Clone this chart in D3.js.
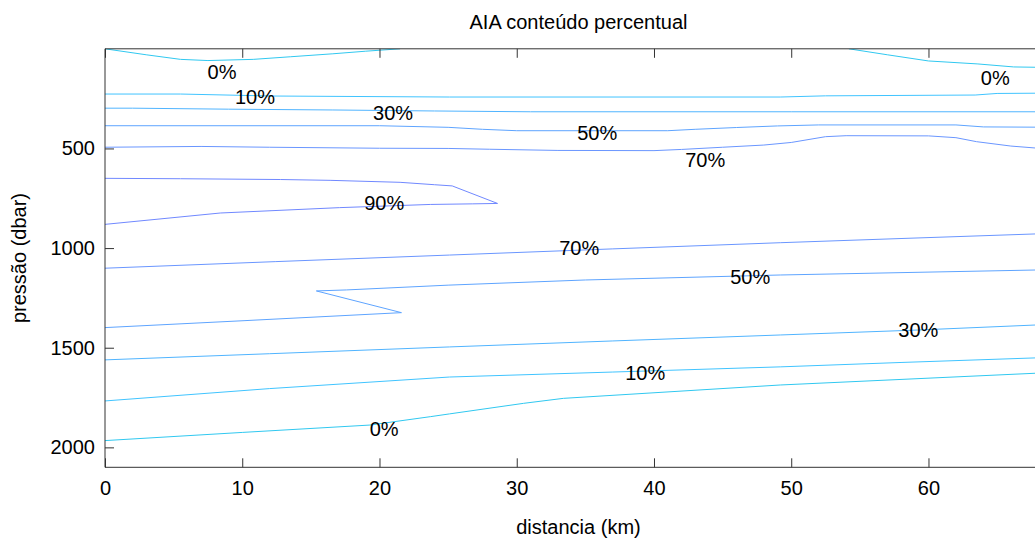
<!DOCTYPE html>
<html>
<head>
<meta charset="utf-8">
<script src="https://cdn.jsdelivr.net/npm/d3@7"></script>
<style>
  html, body { margin: 0; padding: 0; background: #fff; }
  svg { display: block; font-family: "Liberation Sans", Arial, Helvetica, sans-serif; }
</style>
</head>
<body>
<svg id="chart" width="1035" height="541"></svg>
<script>
// Contour levels (%) and their line colours
const levels = [0, 10, 30, 50, 70, 90];
const levelColors = ["#30c8f0", "#40c4ff", "#50b4ff", "#5ea4ff", "#6a96ff", "#7088ff"];

// Axis ticks
const xTicks = [0, 10, 20, 30, 40, 50, 60];
const yTicks = [500, 1000, 1500, 2000];

// Contour lines: [distance (km), pressure (dbar)]
const line0Top = [[0, 0], [3, 30], [5.5, 53], [7.5, 59], [10.8, 53], [13.5, 40], [16.6, 25], [19, 12], [21.5, 0]];
const line0TopRight = [[54.2, 0], [57, 30], [60, 61], [63.6, 76], [66.2, 91], [70, 95]];
const line10Top = [[0, 227], [5.5, 227], [12.2, 237], [25.1, 242], [49.2, 242], [52.5, 236], [63.4, 232], [65, 224], [70, 222]];
const line30Top = [[0, 298], [2, 298], [9, 303], [16.6, 307], [24, 312], [31, 316], [50, 316], [70, 316]];
const line50Top = [[0, 386], [20, 386], [25, 394], [27.5, 404], [30, 411], [41, 411], [43, 404], [46, 395], [49, 387], [52, 382], [62, 382], [64, 392], [70, 394]];
const line70Top = [[0, 494], [7, 490], [12, 494], [20, 499], [25, 500], [28, 504], [33, 510], [40, 511], [42, 505], [45, 494], [48, 483], [50, 470], [52.5, 441], [54, 436], [60, 437], [62, 446], [63.5, 466], [66, 488], [68, 499], [70, 505]];
const line90 = [[0, 650], [5.5, 652], [12.8, 656], [16.4, 660], [21.5, 670], [24, 682], [25.3, 688], [28.6, 776], [26.8, 778], [23.7, 781], [17.1, 797], [8.4, 824], [0, 881]];
const line70Bottom = [[0, 1101], [12.4, 1068], [25.1, 1035], [37, 1004], [49.2, 973], [58, 952], [67.8, 929], [70, 924]];
const line50Bottom = [[0, 1399], [10.2, 1364], [21.6, 1324], [15.4, 1215], [17.6, 1210], [25, 1186], [35, 1160], [49.2, 1135], [67.8, 1110], [70, 1107]];
const line30Bottom = [[0, 1561], [12, 1530], [25.1, 1496], [37, 1466], [49.2, 1436], [59.3, 1411], [67.8, 1386], [70, 1381]];
const line10Bottom = [[0, 1767], [12, 1705], [25.1, 1647], [37, 1622], [49.2, 1596], [58, 1574], [67.8, 1551], [70, 1546]];
const line0Bottom = [[0, 1966], [10, 1925], [19.3, 1888], [23.7, 1846], [25.1, 1832], [30.5, 1779], [33.4, 1754], [49.2, 1687], [67.8, 1628], [70, 1622]];

// Which level each contour line belongs to
const contourLines = [
  { level: 0, points: line0Top },
  { level: 0, points: line0TopRight },
  { level: 10, points: line10Top },
  { level: 30, points: line30Top },
  { level: 50, points: line50Top },
  { level: 70, points: line70Top },
  { level: 90, points: line90 },
  { level: 70, points: line70Bottom },
  { level: 50, points: line50Bottom },
  { level: 30, points: line30Bottom },
  { level: 10, points: line10Bottom },
  { level: 0, points: line0Bottom }
];

// Inline contour labels: level, distance (km), pressure (dbar)
const labelLevels = [0, 10, 30, 50, 70, 90, 70, 50, 30, 10, 0, 0];
const labelKm = [8.53, 10.93, 20.99, 35.86, 43.73, 20.34, 34.55, 47.01, 59.26, 39.36, 20.34, 64.87];
const labelDbar = [116, 242, 322, 422, 558, 774, 999, 1145, 1411, 1627, 1908, 147];

const svg = d3.select("#chart");
const plotLeft = 105, plotTop = 48.8, plotBottom = 467.3, plotRight = 1052;

const x = d3.scaleLinear().domain([0, 69]).range([plotLeft, plotRight]);
const y = d3.scaleLinear().domain([0, 2100]).range([plotTop, plotBottom]);
const color = d3.scaleOrdinal().domain(levels).range(levelColors);

svg.append("defs").append("clipPath").attr("id", "plot-clip")
  .append("rect").attr("x", plotLeft).attr("y", plotTop)
  .attr("width", plotRight - plotLeft).attr("height", plotBottom - plotTop);

const FONT = 20;

// Contour lines
const lineGen = d3.line().x(d => x(d[0])).y(d => y(d[1]));
svg.append("g").attr("clip-path", "url(#plot-clip)")
  .selectAll("path").data(contourLines).join("path")
  .attr("d", d => lineGen(d.points))
  .attr("fill", "none")
  .attr("stroke", d => color(d.level))
  .attr("stroke-width", 1);

// Contour labels
svg.append("g").selectAll("text").data(labelLevels).join("text")
  .attr("x", (d, i) => x(labelKm[i]))
  .attr("y", (d, i) => y(labelDbar[i]))
  .attr("dy", "0.36em")
  .attr("text-anchor", "middle")
  .attr("font-size", FONT)
  .attr("fill", "#000")
  .text(d => d + "%");

// Axes: ticks point inward, frame on top as well
const axisColor = "#333";
const xAxis = d3.axisBottom(x).tickValues(xTicks).tickSize(-9).tickPadding(14).tickFormat(d3.format("d"));
const gx = svg.append("g").attr("transform", `translate(0,${plotBottom})`).call(xAxis);
gx.select(".domain").attr("d", `M${plotLeft},0H${plotRight}`);

const xAxisTop = d3.axisTop(x).tickValues(xTicks).tickSize(-9).tickFormat("");
const gxt = svg.append("g").attr("transform", `translate(0,${plotTop})`).call(xAxisTop);
gxt.select(".domain").attr("d", `M${plotLeft},0H${plotRight}`);

const yAxis = d3.axisLeft(y).tickValues(yTicks).tickSize(-9).tickPadding(10).tickFormat(d3.format("d"));
const gy = svg.append("g").attr("transform", `translate(${plotLeft},0)`).call(yAxis);
gy.select(".domain").attr("d", `M0,${plotTop}V${plotBottom}`);

[gx, gxt, gy].forEach(g => {
  g.selectAll(".domain, line").attr("stroke", axisColor).attr("stroke-width", 1);
  g.selectAll("text").attr("font-size", FONT).attr("fill", "#000").attr("font-family", null);
});

// Titles
svg.append("text")
  .attr("x", (plotLeft + plotRight) / 2).attr("y", 29)
  .attr("text-anchor", "middle").attr("font-size", FONT)
  .text("AIA conteúdo percentual");

svg.append("text")
  .attr("x", (plotLeft + plotRight) / 2).attr("y", 534)
  .attr("text-anchor", "middle").attr("font-size", FONT)
  .text("distancia (km)");

svg.append("text")
  .attr("transform", `translate(26,${(plotTop + plotBottom) / 2}) rotate(-90)`)
  .attr("text-anchor", "middle").attr("font-size", FONT)
  .text("pressão (dbar)");
</script>
</body>
</html>
